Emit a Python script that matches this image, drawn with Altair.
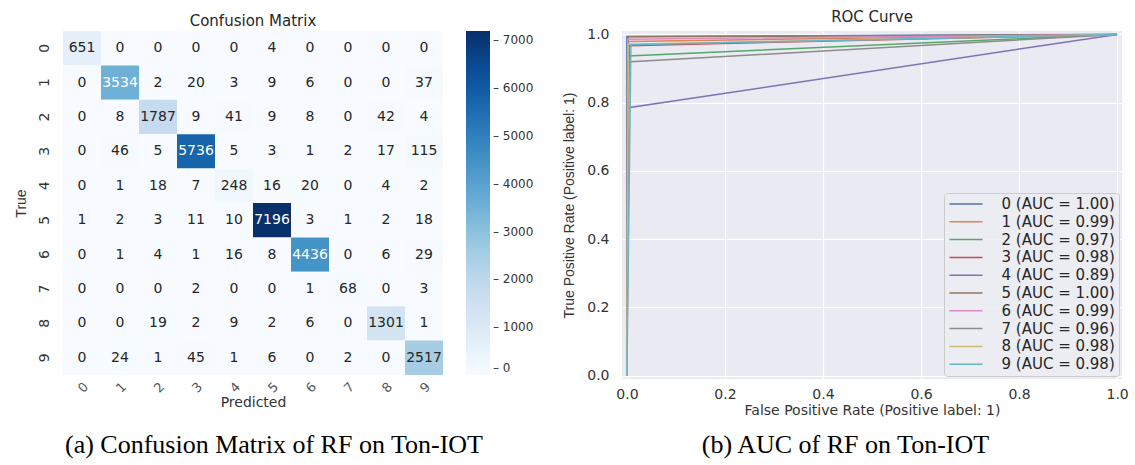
import altair as alt
import pandas as pd

# ---------------- data ----------------
classes = [str(i) for i in range(10)]
cm_rows = [
    [651, 0, 0, 0, 0, 4, 0, 0, 0, 0],
    [0, 3534, 2, 20, 3, 9, 6, 0, 0, 37],
    [0, 8, 1787, 9, 41, 9, 8, 0, 42, 4],
    [0, 46, 5, 5736, 5, 3, 1, 2, 17, 115],
    [0, 1, 18, 7, 248, 16, 20, 0, 4, 2],
    [1, 2, 3, 11, 10, 7196, 3, 1, 2, 18],
    [0, 1, 4, 1, 16, 8, 4436, 0, 6, 29],
    [0, 0, 0, 2, 0, 0, 1, 68, 0, 3],
    [0, 0, 19, 2, 9, 2, 6, 0, 1301, 1],
    [0, 24, 1, 45, 1, 6, 0, 2, 0, 2517],
]
colorbar_ticks = [0, 1000, 2000, 3000, 4000, 5000, 6000, 7000]

roc_labels = [
    "0 (AUC = 1.00)", "1 (AUC = 0.99)", "2 (AUC = 0.97)", "3 (AUC = 0.98)",
    "4 (AUC = 0.89)", "5 (AUC = 1.00)", "6 (AUC = 0.99)", "7 (AUC = 0.96)",
    "8 (AUC = 0.98)", "9 (AUC = 0.98)",
]
# corner point of each class ROC curve
roc_fpr_mid = [0.0000, 0.0033, 0.0020, 0.0044, 0.0030, 0.0027, 0.0019, 0.0002, 0.0026, 0.0082]
roc_tpr_mid = [0.994, 0.979, 0.937, 0.967, 0.785, 0.993, 0.986, 0.919, 0.971, 0.970]
roc_ticks = [0.0, 0.2, 0.4, 0.6, 0.8, 1.0]

caption_a = "(a) Confusion Matrix of RF on Ton-IOT"
caption_b = "(b) AUC of RF on Ton-IOT"

# ---------------- styling ----------------
blues = ["#f7fbff", "#deebf7", "#c6dbef", "#9ecae1", "#6baed6",
         "#4292c6", "#2171b5", "#08519c", "#08306b"]
cmax = 7196
blue_stops = [cmax * i / 8 for i in range(9)]
deep = ["#4c72b0", "#dd8452", "#55a868", "#c44e52", "#8172b3",
        "#937860", "#da8bc3", "#8c8c8c", "#ccb974", "#64b5cd"]
SANS = "DejaVu Sans"
TXT = "#333333"

# ---------------- confusion matrix ----------------
cm_df = pd.DataFrame(
    [{"True": classes[i], "Predicted": classes[j], "count": cm_rows[i][j]}
     for i in range(10) for j in range(10)]
)

base = alt.Chart(cm_df).encode(
    x=alt.X("Predicted:O", sort=classes,
            scale=alt.Scale(paddingInner=0, paddingOuter=0),
            axis=alt.Axis(title="Predicted", labelAngle=315, ticks=False, domain=False,
                          labelPadding=5, titlePadding=0, labelFont=SANS, labelFontSize=13,
                          labelColor="#555555", titleFont=SANS, titleFontSize=14,
                          titleColor=TXT, titleFontWeight="normal")),
    y=alt.Y("True:O", sort=classes,
            scale=alt.Scale(paddingInner=0, paddingOuter=0),
            axis=alt.Axis(title="True", labelAngle=270, ticks=False, domain=False,
                          labelPadding=12, titlePadding=9, labelFont=SANS, labelFontSize=14,
                          labelColor=TXT, titleFont="Liberation Sans", titleFontSize=14,
                          titleColor=TXT, titleFontWeight="normal")),
)

rects = base.mark_rect().encode(
    color=alt.Color("count:Q",
                    scale=alt.Scale(domain=blue_stops, range=blues),
                    legend=alt.Legend(title=None, orient="right", direction="vertical",
                                      gradientLength=344, gradientThickness=24,
                                      gradientStrokeWidth=0, values=colorbar_ticks,
                                      labelExpr="'– ' + format(datum.value, 'd')", labelOffset=3,
                                      labelFont=SANS, labelFontSize=12, labelColor=TXT,
                                      offset=23, padding=0))
)
texts = base.mark_text(font=SANS, fontSize=14).encode(
    text=alt.Text("count:Q"),
    color=alt.condition(alt.datum.count > 3000, alt.value("white"), alt.value("#262626")),
)
heat = (rects + texts).properties(
    width=380, height=344,
    title=alt.TitleParams("Confusion Matrix", offset=2),
)
left = alt.vconcat(heat).properties(
    title=alt.TitleParams(caption_a, orient="bottom", frame="bounds", anchor="middle",
                          font="Liberation Serif", fontSize=26, fontWeight="normal",
                          color="black", offset=23)
).resolve_scale(color="independent").resolve_legend(color="independent")

# ---------------- ROC curves ----------------
roc_records = []
for k, lab in enumerate(roc_labels):
    roc_records.append({"label": lab, "step": 0, "fpr": 0.0, "tpr": 0.0})
    roc_records.append({"label": lab, "step": 1, "fpr": roc_fpr_mid[k], "tpr": roc_tpr_mid[k]})
    roc_records.append({"label": lab, "step": 2, "fpr": 1.0, "tpr": 1.0})
roc_df = pd.DataFrame(roc_records)

roc = alt.Chart(roc_df).mark_line(strokeWidth=1.5).encode(
    x=alt.X("fpr:Q",
            scale=alt.Scale(domain=[-0.01, 1.01], nice=False, zero=False),
            axis=alt.Axis(title="False Positive Rate (Positive label: 1)", values=roc_ticks,
                          format=".1f", grid=True, gridColor="white", gridWidth=1.2,
                          ticks=False, domain=False, labelPadding=8, titlePadding=2,
                          labelFont=SANS, labelFontSize=14, labelColor=TXT,
                          titleFont=SANS, titleFontSize=14, titleColor=TXT,
                          titleFontWeight="normal")),
    y=alt.Y("tpr:Q",
            scale=alt.Scale(domain=[-0.01, 1.01], nice=False, zero=False),
            axis=alt.Axis(title="True Positive Rate (Positive label: 1)", values=roc_ticks,
                          format=".1f", grid=True, gridColor="white", gridWidth=1.2,
                          ticks=False, domain=False, labelPadding=13, titlePadding=10,
                          labelFont=SANS, labelFontSize=14, labelColor=TXT,
                          titleFont="Liberation Sans", titleFontSize=14, titleColor=TXT,
                          titleFontWeight="normal")),
    color=alt.Color("label:N", sort=roc_labels,
                    scale=alt.Scale(domain=roc_labels, range=deep),
                    legend=alt.Legend(title=None, orient="bottom-right", offset=3,
                                      symbolType="M-1,0H5", symbolSize=121,
                                      symbolStrokeWidth=1.5, labelOffset=39,
                                      labelFont=SANS, labelFontSize=15, labelColor="#262626",
                                      fillColor="rgba(236,236,243,0.85)", strokeColor="#cccccc",
                                      cornerRadius=3, padding=3.5, rowPadding=1.8)),
    order=alt.Order("step:Q"),
).properties(
    width=500, height=348,
    title=alt.TitleParams("ROC Curve", offset=2),
    view=alt.ViewBackground(fill="#eaeaf2", strokeWidth=0),
)
right = alt.vconcat(roc).properties(
    title=alt.TitleParams(caption_b, orient="bottom", frame="bounds", anchor="middle",
                          font="Liberation Serif", fontSize=26, fontWeight="normal",
                          color="black", offset=15)
).resolve_scale(color="independent").resolve_legend(color="independent")

chart = alt.hconcat(left, right, spacing=28).resolve_scale(
    color="independent"
).resolve_legend(color="independent").properties(
    padding={"left": 13, "top": 10, "right": 2, "bottom": 2},
    background="white",
).configure_view(strokeWidth=0).configure_title(
    font=SANS, fontSize=15, fontWeight="normal", color="#262626"
)

chart.save("out.html", embed_options={"renderer": "svg", "actions": False})
